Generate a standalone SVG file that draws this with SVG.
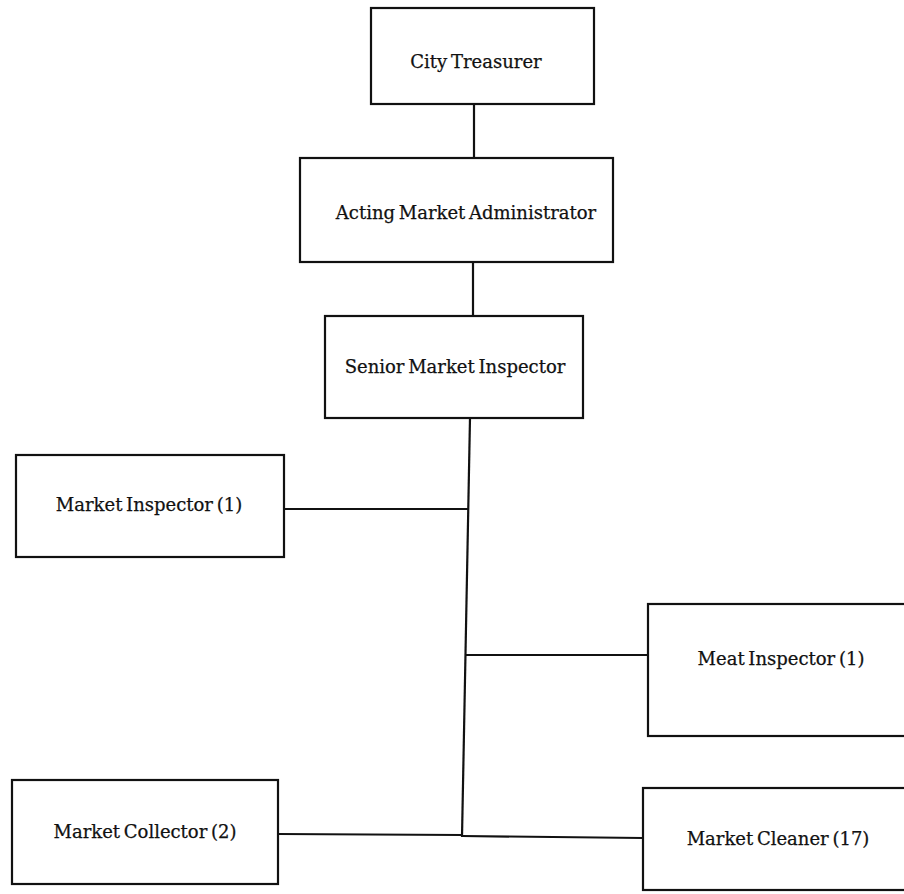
<svg xmlns="http://www.w3.org/2000/svg" width="904" height="894" viewBox="0 0 904 894">
<style>
.box{fill:#fff;stroke:#111;stroke-width:2.2}
.lbl{font-family:"DejaVu Serif","Liberation Serif",serif;font-size:18px;fill:#111;stroke:#111;stroke-width:0.25;text-anchor:middle;word-spacing:-2px}
.con{stroke:#111;stroke-width:2.2;fill:none}
</style>
<rect width="904" height="894" fill="#fff"/>
<g id="connectors">
<line class="con" x1="474" y1="104" x2="474" y2="158"/>
<line class="con" x1="473" y1="262" x2="473" y2="316"/>
<line class="con" x1="470" y1="418" x2="462" y2="837"/>
<line class="con" x1="284" y1="509" x2="469" y2="509"/>
<line class="con" x1="466" y1="655" x2="648" y2="655"/>
<line class="con" x1="278" y1="834" x2="462" y2="835"/>
<line class="con" x1="462" y1="836" x2="643" y2="838"/>
</g>
<g id="city-treasurer">
<rect class="box" x="371" y="8" width="223" height="96"/>
<text class="lbl" x="476" y="68">City Treasurer</text>
</g>
<g id="acting-market-administrator">
<rect class="box" x="300" y="158" width="313" height="104"/>
<text class="lbl" x="466" y="219">Acting Market Administrator</text>
</g>
<g id="senior-market-inspector">
<rect class="box" x="325" y="316" width="258" height="102"/>
<text class="lbl" x="455" y="373">Senior Market Inspector</text>
</g>
<g id="market-inspector">
<rect class="box" x="16" y="455" width="268" height="102"/>
<text class="lbl" x="149" y="511">Market Inspector (1)</text>
</g>
<g id="meat-inspector">
<rect class="box" x="648" y="604" width="262" height="132"/>
<text class="lbl" x="781" y="665">Meat Inspector (1)</text>
</g>
<g id="market-collector">
<rect class="box" x="12" y="780" width="266" height="104"/>
<text class="lbl" x="145" y="838">Market Collector (2)</text>
</g>
<g id="market-cleaner">
<rect class="box" x="643" y="788" width="267" height="102"/>
<text class="lbl" x="778" y="845">Market Cleaner (17)</text>
</g>
</svg>
